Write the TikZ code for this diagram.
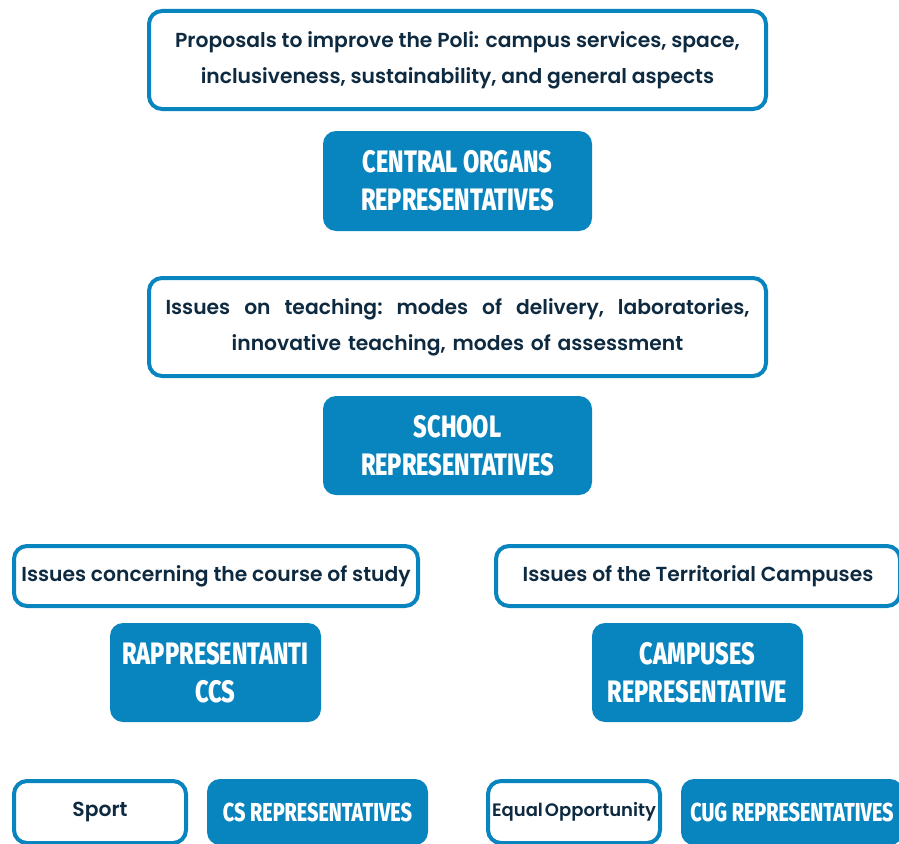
\documentclass[tikz,border=0pt]{standalone}
\usepackage{fontspec}
\setmainfont{Poppins}[UprightFont=* SemiBold]
\newfontfamily\headfont[FakeStretch=0.76,BoldFont=* ExtraBold]{Fira Sans}
\definecolor{polblue}{RGB}{8,132,190}
\definecolor{inkblue}{RGB}{14,42,64}
\newcommand{\headbig}{\headfont\bfseries\fontsize{31}{38}\selectfont}
\newcommand{\headsmall}{\headfont\bfseries\fontsize{26}{30}\selectfont}
\newcommand{\notetxt}{\fontsize{20.3}{36}\selectfont}

\begin{document}
\begin{tikzpicture}[x=1pt,y=-1pt,
  note/.style={draw=polblue,line width=4pt,fill=white,rounded corners=13pt,
    inner sep=0pt,align=center,text=inkblue,font=\notetxt},
  rep/.style={fill=polblue,rounded corners=13pt,inner sep=0pt,
    align=center,text=white,font=\headbig}]
  \clip (0,0) rectangle (899,843);
  \fill[white] (0,0) rectangle (899,843);
  % central level
  \node[note,minimum width=617pt,minimum height=98pt] (proposals) at (457.5,60)
    {Proposals to improve the Poli: campus services, space,\\
     inclusiveness, sustainability, and general aspects};
  \node[rep,minimum width=269pt,minimum height=100pt] (central) at (457.5,181)
    {CENTRAL ORGANS\\REPRESENTATIVES};
  % school level
  \node[note,minimum width=617pt,minimum height=98pt,text width=584pt] (teaching) at (457.5,327)
    {\makebox[584pt]{Issues\hfill on\hfill teaching:\hfill modes\hfill of\hfill delivery,\hfill laboratories,}\\
     innovative teaching, modes of assessment};
  \node[rep,minimum width=269pt,minimum height=99pt] (school) at (457.5,445.5)
    {SCHOOL\\REPRESENTATIVES};
  % course and campus level
  \node[note,minimum width=404pt,minimum height=60pt] (course) at (216,576)
    {Issues concerning the course of study};
  \node[note,minimum width=404pt,minimum height=60pt] (territorial) at (698,576)
    {Issues of the Territorial Campuses};
  \node[rep,minimum width=211pt,minimum height=99pt] (ccs) at (215.5,672.5)
    {RAPPRESENTANTI\\CCS};
  \node[rep,minimum width=211pt,minimum height=99pt] (campuses) at (697.5,672.5)
    {CAMPUSES\\REPRESENTATIVE};
  % bodies
  \node[note,minimum width=172pt,minimum height=62pt] (sport) at (100,812) {Sport};
  \node[rep,font=\headsmall,minimum width=221pt,minimum height=66pt] (cs) at (317.5,812)
    {CS REPRESENTATIVES};
  \node[note,font=\fontsize{18}{20}\selectfont,minimum width=172pt,minimum height=62pt] (equal) at (574,812)
    {Equal\kern2pt Opportunity};
  \node[rep,font=\headsmall,minimum width=222pt,minimum height=66pt] (cug) at (792,812)
    {CUG REPRESENTATIVES};
\end{tikzpicture}
\end{document}
